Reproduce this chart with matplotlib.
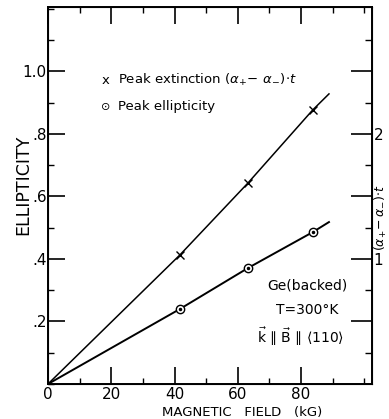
import matplotlib
matplotlib.use("Agg")
import matplotlib.pyplot as plt
from matplotlib.ticker import MultipleLocator, FixedLocator, FixedFormatter

plt.rcParams["font.family"] = ["DejaVu Sans"]
plt.rcParams["mathtext.fontset"] = "dejavusans"

field = [0, 41.7, 63.2, 83.7, 88.8]
extinction = [0, 0.413, 0.643, 0.877, 0.928]
ellipticity = [0, 0.240, 0.371, 0.486, 0.518]
pts_field = [41.7, 63.2, 83.7]
pts_ext = [0.413, 0.643, 0.877]
pts_ell = [0.240, 0.371, 0.486]

x_ticks = [0, 20, 40, 60, 80]
y_ticks = [0.2, 0.4, 0.6, 0.8, 1.0]
y_labels = [".2", ".4", ".6", ".8", "1.0"]
r_ticks = [0.5, 1, 1.5, 2, 2.5]
r_labels = ["", "1", "", "2", ""]
r_minor = [0.25, 0.75, 1.25, 1.75, 2.25, 2.75]

XMAX, YMAX = 102.4, 1.206

fig = plt.figure(figsize=(3.89, 4.19), dpi=100)
ax = fig.add_axes([48/389, 35/419, 324/389, 377/419])

ax.plot(field, extinction, color="black", lw=1.1)
ax.plot(field, ellipticity, color="black", lw=1.4)
ax.plot(pts_field, pts_ext, "x", color="black", ms=6, mew=1.0)
ax.plot(pts_field, pts_ell, "o", color="black", mfc="white", ms=6, mew=1.0)
ax.plot(pts_field, pts_ell, "o", color="black", ms=1.5)

ax.set_xlim(0, XMAX)
ax.set_ylim(0, YMAX)
ax.set_xticks(x_ticks)
ax.set_yticks(y_ticks)
ax.set_yticklabels(y_labels)
ax.xaxis.set_minor_locator(MultipleLocator(10))
ax.yaxis.set_minor_locator(MultipleLocator(0.1))
ax.tick_params(which="major", direction="in", length=12, width=1.2,
               labelsize=11, pad=2, top=True)
ax.tick_params(which="minor", direction="in", length=4, width=1.0, top=True)
ax.tick_params(axis="y", pad=1)
for s in ax.spines.values():
    s.set_linewidth(1.4)

ax2 = ax.twinx()
ax2.set_ylim(0, YMAX * 2.5)
ax2.yaxis.set_major_locator(FixedLocator(r_ticks))
ax2.yaxis.set_major_formatter(FixedFormatter(r_labels))
ax2.yaxis.set_minor_locator(FixedLocator(r_minor))
ax2.tick_params(which="major", direction="in", length=15, width=1.2, labelsize=11, pad=1)
ax2.tick_params(which="minor", direction="in", length=5, width=1.0)

ax.set_xlabel("MAGNETIC   FIELD   (kG)", fontsize=9.5)
ax.xaxis.set_label_coords(0.60, -0.058)
ax.set_ylabel("ELLIPTICITY", fontsize=12.5)
ax.yaxis.set_label_coords(-0.05, 0.528)
fig.text(1.0, 1 - 218/419, r"$(\alpha_{+}\!-\alpha_{-})\!\cdot\! t$", rotation=90,
         fontsize=9, ha="right", va="center")

ax.text(0.165, 0.806, "x", transform=ax.transAxes, fontsize=9.5, va="center")
ax.text(0.215, 0.806, r"Peak extinction $(\alpha_{+}\!-\,\alpha_{-})\!\cdot\! t$",
        transform=ax.transAxes, fontsize=9.5, va="center")
ax.text(0.165, 0.735, "⊙", transform=ax.transAxes, fontsize=8, va="center")
ax.text(0.215, 0.735, "Peak ellipticity", transform=ax.transAxes, fontsize=9.5, va="center")

ax.text(0.80, 0.262, "Ge(backed)", transform=ax.transAxes, fontsize=10, ha="center", va="center")
ax.text(0.80, 0.196, "T=300°K", transform=ax.transAxes, fontsize=10, ha="center", va="center")
ax.text(0.78, 0.125, r"$\vec{\mathrm{k}}$ ∥ $\vec{\mathrm{B}}$ ∥ ⟨110⟩",
        transform=ax.transAxes, fontsize=10, ha="center", va="center")

fig.savefig("out.png", dpi=100)
